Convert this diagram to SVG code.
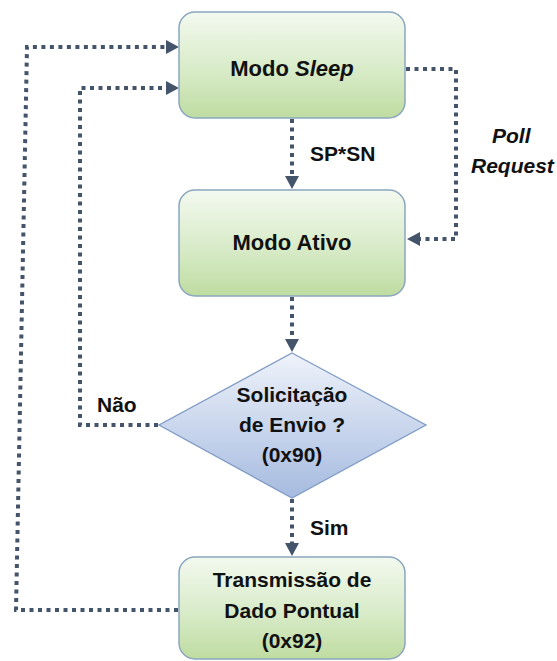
<svg xmlns="http://www.w3.org/2000/svg" width="557" height="661" viewBox="0 0 557 661">
  <style>
    .box { stroke: #8aa6bf; stroke-width: 1.5; }
    .dia { stroke: #7f9bc4; stroke-width: 1.3; }
    .t { font-family: "Liberation Sans", Arial, sans-serif; font-weight: bold; font-size: 21px; fill: #111111; text-anchor: middle; }
    .big { font-size: 22px; }
    .lbl { font-family: "Liberation Sans", Arial, sans-serif; font-weight: bold; font-size: 21px; fill: #111111; }
    .it { font-style: italic; }
    .flow { fill: none; stroke: #44546a; stroke-width: 4; stroke-dasharray: 4 4.5; }
  </style>
  <defs>
    <linearGradient id="green" x1="0" y1="0" x2="0" y2="1">
      <stop offset="0" stop-color="#f3f9ef"/>
      <stop offset="0.55" stop-color="#d8ebc8"/>
      <stop offset="1" stop-color="#bfdca1"/>
    </linearGradient>
    <linearGradient id="blue" x1="0" y1="0" x2="0" y2="1">
      <stop offset="0" stop-color="#eef2fa"/>
      <stop offset="1" stop-color="#a6bbe0"/>
    </linearGradient>
  </defs>

  <g id="connectors">
    <!-- Sleep -> Ativo -->
    <path class="flow" d="M292,119 V178"/>
    <path d="M285,176 L299,176 L292,189 Z" fill="#44546a"/>
    <!-- Poll Request loop -->
    <path class="flow" d="M406,69 H456 V239 H419"/>
    <path d="M420,232 L420,246 L407,239 Z" fill="#44546a"/>
    <!-- Ativo -> decision -->
    <path class="flow" d="M292,297 V340"/>
    <path d="M285,339 L299,339 L292,352 Z" fill="#44546a"/>
    <!-- decision -> Transmissao -->
    <path class="flow" d="M292,499 V545"/>
    <path d="M285,543 L299,543 L292,556 Z" fill="#44546a"/>
    <!-- Nao: back to Sleep -->
    <path class="flow" d="M158,425 H80 V88 H167"/>
    <path d="M166,81 L166,95 L179,88 Z" fill="#44546a"/>
    <!-- after transmission: back to Sleep -->
    <path class="flow" d="M178,610 H16 L27,47 H167"/>
    <path d="M166,40 L166,54 L179,47 Z" fill="#44546a"/>
  </g>

  <g id="modo-sleep">
    <rect class="box" x="179" y="12" width="226" height="106" rx="16" fill="url(#green)"/>
    <text class="t big" x="292" y="76">Modo <tspan class="it">Sleep</tspan></text>
  </g>

  <g id="modo-ativo">
    <rect class="box" x="179" y="190" width="226" height="106" rx="16" fill="url(#green)"/>
    <text class="t big" x="292" y="250">Modo Ativo</text>
  </g>

  <g id="solicitacao">
    <polygon class="dia" points="292,353 426,425 292,498 159,425" fill="url(#blue)"/>
    <text class="t" x="292" y="402">Solicitação</text>
    <text class="t" x="292" y="432">de Envio ?</text>
    <text class="t" x="292" y="462">(0x90)</text>
  </g>

  <g id="transmissao">
    <rect class="box" x="179" y="557" width="226" height="102" rx="16" fill="url(#green)"/>
    <text class="t" x="292" y="587">Transmissão de</text>
    <text class="t" x="292" y="618">Dado Pontual</text>
    <text class="t" x="292" y="648">(0x92)</text>
  </g>

  <g id="labels">
    <text class="lbl" x="310" y="161">SP*SN</text>
    <text class="lbl it" x="492" y="143">Poll</text>
    <text class="lbl it" x="471" y="173">Request</text>
    <text class="lbl" x="97" y="412">Não</text>
    <text class="lbl" x="310" y="535">Sim</text>
  </g>
</svg>
